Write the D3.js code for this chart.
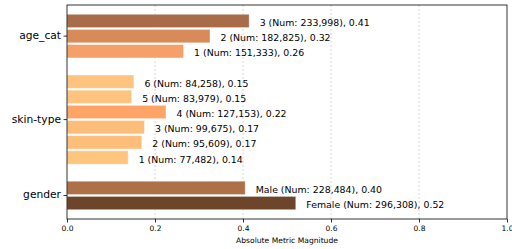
<!DOCTYPE html>
<html>
<head>
<meta charset="utf-8">
<script src="https://cdn.jsdelivr.net/npm/d3@7"></script>
<style>
  body { margin: 0; background: #fff; }
  text { font-family: "DejaVu Sans", sans-serif; }
</style>
</head>
<body>
<div id="chart"></div>
<script>
// rows from top to bottom, null = gap between groups
const groups = ['age_cat', 'skin-type', 'gender'];
const rowGroups = ['age_cat', 'age_cat', 'age_cat', null, 'skin-type', 'skin-type', 'skin-type', 'skin-type', 'skin-type', 'skin-type', null, 'gender', 'gender'];
const rowValues = [0.414, 0.325, 0.265, null, 0.152, 0.147, 0.225, 0.176, 0.170, 0.139, null, 0.405, 0.520];
const rowLabels = ['3 (Num: 233,998), 0.41', '2 (Num: 182,825), 0.32', '1 (Num: 151,333), 0.26', null,
  '6 (Num: 84,258), 0.15', '5 (Num: 83,979), 0.15', '4 (Num: 127,153), 0.22', '3 (Num: 99,675), 0.17',
  '2 (Num: 95,609), 0.17', '1 (Num: 77,482), 0.14', null,
  'Male (Num: 228,484), 0.40', 'Female (Num: 296,308), 0.52'];
const rowColors = ['#a86c48', '#d88a58', '#f5a068', null, '#fec47f', '#fec47f', '#fea466', '#fdbd7a', '#fdbe7a', '#fec57f', null, '#ad7048', '#6c452b'];
const xTicks = [0, 0.2, 0.4, 0.6, 0.8, 1.0];

const w = 512, h = 249;
const m = { left: 67, right: 507, top: 5, bottom: 219 };

const svg = d3.select('#chart').append('svg')
  .attr('width', w).attr('height', h);

const x = d3.scaleLinear().domain([0, 1]).range([m.left, m.right]);
const y = d3.scaleBand()
  .domain(d3.range(rowValues.length))
  .range([m.top, m.bottom])
  .paddingInner(0.12)
  .paddingOuter(0.61);

// grid
svg.append('g').selectAll('line')
  .data(xTicks.slice(1, -1))
  .enter().append('line')
  .attr('x1', d => x(d)).attr('x2', d => x(d))
  .attr('y1', m.top).attr('y2', m.bottom)
  .attr('stroke', '#cccccc').attr('stroke-width', 0.8)
  .attr('stroke-dasharray', '2,2');

const rows = d3.range(rowValues.length).filter(i => rowValues[i] !== null);

svg.append('g').selectAll('rect')
  .data(rows)
  .enter().append('rect')
  .attr('x', x(0))
  .attr('y', i => y(i))
  .attr('width', i => x(rowValues[i]) - x(0))
  .attr('height', y.bandwidth())
  .attr('fill', i => rowColors[i])
  .attr('stroke', '#ffffff').attr('stroke-opacity', 0.5).attr('stroke-width', 0.8);

svg.append('g').selectAll('text')
  .data(rows)
  .enter().append('text')
  .attr('x', i => x(rowValues[i]) + 10.5)
  .attr('y', i => y(i) + y.bandwidth() / 2 + 2.5)
  .attr('dominant-baseline', 'middle')
  .attr('font-size', '9.4px')
  .attr('fill', '#000')
  .text(i => rowLabels[i]);

// group ticks at centre of each group
const groupCenter = g => {
  const idx = d3.range(rowGroups.length).filter(i => rowGroups[i] === g);
  return (y(idx[0]) + y(idx[idx.length - 1]) + y.bandwidth()) / 2;
};

const yAxis = svg.append('g');
groups.forEach(g => {
  const cy = groupCenter(g);
  yAxis.append('line')
    .attr('x1', m.left - 3.5).attr('x2', m.left)
    .attr('y1', cy).attr('y2', cy)
    .attr('stroke', '#000').attr('stroke-width', 0.8);
  yAxis.append('text')
    .attr('x', m.left - 6).attr('y', cy)
    .attr('text-anchor', 'end')
    .attr('dominant-baseline', 'middle')
    .attr('font-size', '10.7px')
    .text(g);
});

// x axis
const xAxis = d3.axisBottom(x)
  .tickValues(xTicks)
  .tickFormat(d3.format('.1f'))
  .tickSize(3.5)
  .tickPadding(3);

const gx = svg.append('g')
  .attr('transform', `translate(0, ${m.bottom})`)
  .call(xAxis);
gx.select('.domain').remove();
gx.selectAll('line').attr('stroke-width', 0.8);
gx.selectAll('text').attr('font-size', '7.5px').attr('font-family', '"DejaVu Sans", sans-serif');

// frame
svg.append('rect')
  .attr('x', m.left).attr('y', m.top)
  .attr('width', m.right - m.left).attr('height', m.bottom - m.top)
  .attr('fill', 'none').attr('stroke', '#000').attr('stroke-width', 0.8);

svg.append('text')
  .attr('x', (m.left + m.right) / 2).attr('y', 243)
  .attr('text-anchor', 'middle')
  .attr('font-size', '7.6px')
  .text('Absolute Metric Magnitude');
</script>
</body>
</html>
